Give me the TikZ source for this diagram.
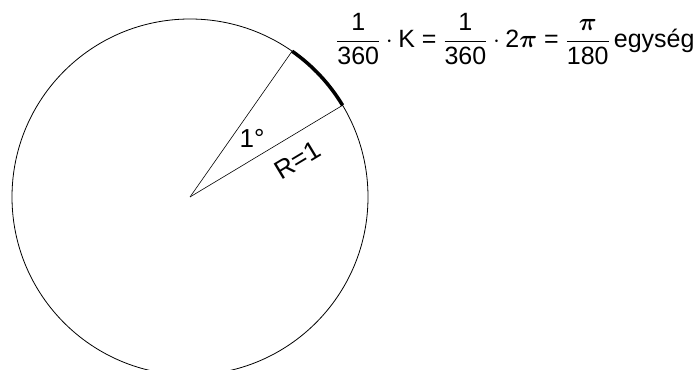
\documentclass[tikz,border=0pt]{standalone}
\usepackage{amsmath}
\usepackage{fontspec}
\setmainfont{Liberation Sans}
\usepackage{tikz}
\usetikzlibrary{
  calc
}
\definecolor{linecolor}{RGB}{0, 0, 0}
\definecolor{labelcolor}{RGB}{0, 0, 0}
\newcommand{\eqsign}{\mathrel{\text{=}}}
\tikzset{
circleline/.style={
  draw=linecolor,
  line width=0.8pt
},
radiusline/.style={
  draw=linecolor,
  line width=0.6pt
},
arcmark/.style={
  draw=linecolor,
  line width=3.5pt
},
anglelabel/.style={
  font=\fontsize{26}{30}\selectfont,
  text=labelcolor,
  inner sep=0pt
},
formula/.style={
  font=\fontsize{25}{29}\selectfont,
  text=labelcolor,
  inner sep=0pt
}
}

\begin{document}
\begin{tikzpicture}[x=1pt,y=1pt]
        \useasboundingbox (0,0) rectangle (700,369);
        \clip (0,0) rectangle (700,369);

        \coordinate (O) at (190,172);
        \coordinate (A) at ($(O)+(55:178)$);
        \coordinate (B) at ($(O)+(31:178)$);

        \draw[circleline] (O) circle[radius=178];
        \draw[radiusline] (O) -- (A);
        \draw[radiusline] (O) -- (B);
        \draw[arcmark] (B) arc[start angle=31, end angle=55, radius=178];

        \node[anglelabel] (fok) at (252,231) {1°};
        \node[anglelabel, rotate=31] (sugar) at (298,209) {R=1};

        \node[formula, anchor=west] (kerulet) at (336,330)
          {$\dfrac{\text{1}}{\text{360}}\cdot\text{K} \eqsign \dfrac{\text{1}}{\text{360}}\cdot\text{2}\boldsymbol{\pi} \eqsign \dfrac{\boldsymbol{\pi}}{\text{180}}\,\text{egység}$};
      \end{tikzpicture}
\end{document}
